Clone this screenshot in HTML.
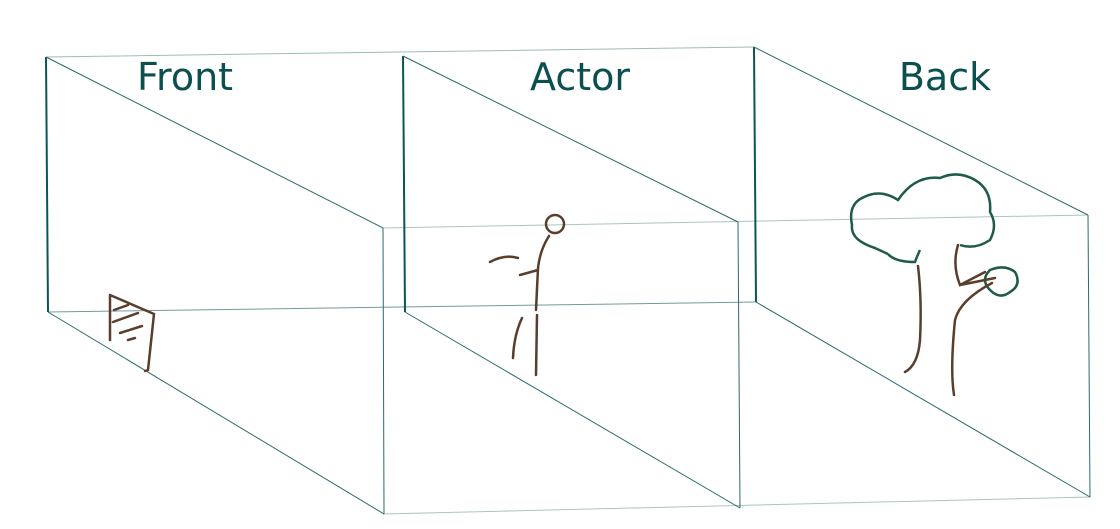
<!DOCTYPE html>
<html><head><meta charset="utf-8"><style>
html,body{margin:0;padding:0;background:#fff;width:1120px;height:529px;overflow:hidden}
svg{display:block}
text{font-family:"DejaVu Sans","Liberation Sans",sans-serif;fill:#0c4f4f;font-size:38px}
</style></head><body>
<svg width="1120" height="529" viewBox="0 0 1120 529">
<g stroke="#2a6b6b" fill="none" stroke-width="1">
<line x1="46" y1="57" x2="754" y2="47" stroke="#9cbcbc"/>
<line x1="48" y1="312" x2="756" y2="302" stroke="#6f9c9c"/>
<line x1="383" y1="228" x2="1088" y2="215" stroke="#a8c4c4"/>
<line x1="383" y1="514" x2="1090" y2="497" stroke="#a8c4c4"/>
<line x1="46" y1="57" x2="48" y2="312" stroke-width="2" stroke="#0c5555"/>
<line x1="46" y1="57" x2="383" y2="228"/>
<line x1="383" y1="228" x2="384" y2="514"/>
<line x1="48" y1="312" x2="384" y2="514"/>
<line x1="403" y1="56" x2="405" y2="312" stroke-width="2" stroke="#0c5555"/>
<line x1="403" y1="56" x2="738" y2="222"/>
<line x1="738" y1="222" x2="740" y2="508"/>
<line x1="405" y1="312" x2="740" y2="508"/>
<line x1="754" y1="47" x2="756" y2="302" stroke-width="2" stroke="#0c5555"/>
<line x1="754" y1="47" x2="1088" y2="215"/>
<line x1="1088" y1="215" x2="1090" y2="497"/>
<line x1="756" y1="302" x2="1090" y2="497"/>
</g>
<text x="185" y="90" text-anchor="middle">Front</text>
<text x="580" y="90" text-anchor="middle">Actor</text>
<text x="945" y="90" text-anchor="middle">Back</text>
<g stroke="#5a3e2b" stroke-width="2.5" fill="none" stroke-linecap="round">
<path d="M110 295 L110 340 M110 295 L154 314 L148 370 L145 371"/>
<path d="M114 310 L128 305 M113 322 L138 313 M120 333 L142 326 M128 340 L135 338"/>
</g>
<g stroke="#5a3e2b" stroke-width="2.5" fill="none" stroke-linecap="round">
<circle cx="555" cy="224" r="9"/>
<path d="M549 236 Q540 250 538 268 L536 310 M490 262 Q505 254 518 258 M520 275 L538 270"/>
<path d="M522 318 Q514 335 513 358 M537 315 L536 375"/>
</g>
<g stroke="#1e5b4c" stroke-width="2.5" fill="none">
<path d="M888 254 L875 248 Q850 240 852 225 Q848 205 862 198 Q880 188 898 200 Q915 175 940 178 Q958 170 975 180 Q992 190 990 212 Q998 225 990 240 Q975 250 960 245 M888 254 Q895 262 915 262 Q918 254 920 250"/>
<path d="M990 270 Q1005 264 1015 272 Q1022 285 1010 292 Q1000 300 990 290 Q980 280 990 270 Z"/>
</g>
<g stroke="#5a3e2b" stroke-width="2.5" fill="none" stroke-linecap="round">
<path d="M918 266 Q922 300 920 340 Q918 365 905 372"/>
<path d="M958 245 Q952 265 960 285 L985 272 M960 285 L995 278 M992 283 Q960 300 955 320 Q950 370 954 395"/>
</g>
</svg>
</body></html>
